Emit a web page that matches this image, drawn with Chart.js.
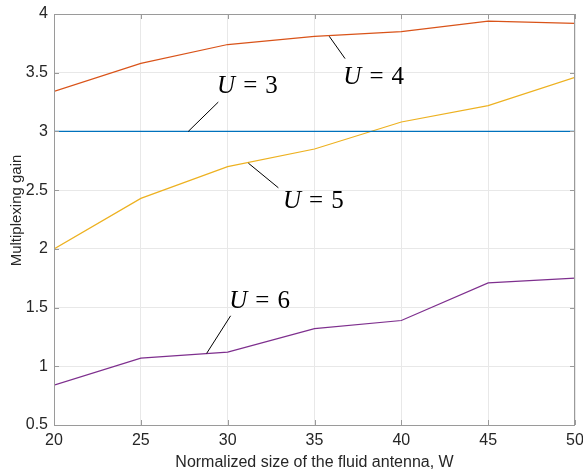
<!DOCTYPE html>
<html>
<head>
<meta charset="utf-8">
<script src="https://cdn.jsdelivr.net/npm/chart.js@4/dist/chart.umd.min.js"></script>
<style>
html, body { margin: 0; padding: 0; background: #fff; }
</style>
</head>
<body>
<canvas id="chart" width="583" height="472"></canvas>
<script>
// normalized fluid antenna size W
const sizes = [20, 25, 30, 35, 40, 45, 50];
// multiplexing gain for each number of users U
const gainU3 = [3, 3, 3, 3, 3, 3, 3];
const gainU4 = [3.34, 3.58, 3.74, 3.81, 3.85, 3.94, 3.92];
const gainU5 = [2.00, 2.43, 2.70, 2.85, 3.08, 3.22, 3.46];
const gainU6 = [0.84, 1.07, 1.12, 1.32, 1.39, 1.71, 1.75];
const xTicks = [20, 25, 30, 35, 40, 45, 50];
const yTicks = [0.5, 1, 1.5, 2, 2.5, 3, 3.5, 4];
const userCounts = [3, 4, 5, 6];
const yTitle = 'Multiplexing gain';

// label callouts, in data units: line from (x1,y1) to (x2,y2), text at (tx,ty)
const callouts = [
    { u: 3, x1: 27.73, y1: 3.0, x2: 29.46, y2: 3.25, tx: 29.39, ty: 3.33 },
    { u: 4, x1: 35.85, y1: 3.81, x2: 36.76, y2: 3.62, tx: 36.66, ty: 3.40 },
    { u: 5, x1: 31.19, y1: 2.73, x2: 32.92, y2: 2.52, tx: 33.19, ty: 2.345 },
    { u: 6, x1: 28.79, y1: 1.11, x2: 30.17, y2: 1.43, tx: 30.09, ty: 1.50 }
];

const colors = ['#0072BD', '#D95319', '#EDB120', '#7E2F8E'];
const series = [gainU3, gainU4, gainU5, gainU6];

let toPoints = ys => sizes.map((x, i) => ({ x: x, y: ys[i] }));

const framePlugin = {
    id: 'frame',
    afterDatasetsDraw(chart) {
        const { ctx, chartArea: a, scales: { x, y } } = chart;
        ctx.save();
        ctx.strokeStyle = '#9a9a9a';
        ctx.lineWidth = 1;
        ctx.strokeRect(Math.round(a.left) + 0.5, Math.round(a.top) + 0.5,
            Math.round(a.right - a.left) - 1, Math.round(a.bottom - a.top));
        // inward ticks on all four sides
        ctx.beginPath();
        xTicks.forEach(v => {
            let px = Math.round(x.getPixelForValue(v)) + 0.5;
            ctx.moveTo(px, a.bottom); ctx.lineTo(px, a.bottom - 5);
            ctx.moveTo(px, a.top); ctx.lineTo(px, a.top + 5);
        });
        yTicks.forEach(v => {
            let py = Math.round(y.getPixelForValue(v)) + 0.5;
            ctx.moveTo(a.left, py); ctx.lineTo(a.left + 5, py);
            ctx.moveTo(a.right, py); ctx.lineTo(a.right - 5, py);
        });
        ctx.stroke();

        // y axis title, sits a little above the middle like the original
        ctx.save();
        ctx.translate(a.left - 37, (a.top + a.bottom) / 2 - 9);
        ctx.rotate(-Math.PI / 2);
        ctx.font = '15px "Liberation Sans", Arial, sans-serif';
        ctx.fillStyle = '#262626';
        ctx.textAlign = 'center';
        ctx.textBaseline = 'middle';
        ctx.fillText(yTitle, 0, 0);
        ctx.restore();

        // callouts
        ctx.strokeStyle = '#000';
        ctx.fillStyle = '#000';
        ctx.textBaseline = 'alphabetic';
        callouts.forEach(c => {
            ctx.beginPath();
            ctx.moveTo(x.getPixelForValue(c.x1), y.getPixelForValue(c.y1));
            ctx.lineTo(x.getPixelForValue(c.x2), y.getPixelForValue(c.y2));
            ctx.stroke();
            let tx = x.getPixelForValue(c.tx);
            let ty = y.getPixelForValue(c.ty);
            ctx.font = 'italic 25px "Liberation Serif"';
            ctx.fillText('U', tx, ty);
            tx += ctx.measureText('U').width + 8;
            ctx.font = '25px "Liberation Serif"';
            ctx.fillText('=', tx, ty);
            tx += ctx.measureText('=').width + 8;
            ctx.fillText(String(c.u), tx, ty);
        });
        ctx.restore();
    }
};

let tickFont = { family: '"Liberation Sans", Arial, sans-serif', size: 16 };

let chart = new Chart('chart', {
    type: 'line',
    data: {
        datasets: series.map((s, i) => ({
            label: 'U = ' + userCounts[i],
            data: toPoints(s),
            borderColor: colors[i],
            borderWidth: 1.2,
            pointRadius: 0,
            tension: 0,
            fill: false
        }))
    },
    options: {
        responsive: false,
        animation: false,
        devicePixelRatio: 1,
        layout: { padding: { left: 0, right: 8, top: 14, bottom: 0 } },
        plugins: {
            legend: { display: false },
            tooltip: { enabled: false }
        },
        scales: {
            x: {
                type: 'linear',
                min: 20,
                max: 50,
                afterBuildTicks: s => { s.ticks = xTicks.map(v => ({ value: v })); },
                afterFit: s => { s.height = 47; s.paddingLeft = 0; s.paddingRight = 0; },
                grid: { color: '#e8e8e8', drawTicks: false },
                border: { display: false },
                ticks: {
                    font: tickFont,
                    color: '#262626',
                    padding: 6,
                    maxRotation: 0,
                    callback: v => String(v)
                },
                title: {
                    display: true,
                    text: 'Normalized size of the fluid antenna, W',
                    font: tickFont,
                    color: '#262626',
                    padding: { top: 0, bottom: 0 }
                }
            },
            y: {
                min: 0.5,
                max: 4,
                afterBuildTicks: s => { s.ticks = yTicks.map(v => ({ value: v })); },
                afterFit: s => { s.width = 54; s.paddingTop = 0; s.paddingBottom = 0; },
                grid: { color: '#e8e8e8', drawTicks: false },
                border: { display: false },
                ticks: {
                    font: tickFont,
                    color: '#262626',
                    padding: 6,
                    callback: v => String(v)
                }
            }
        }
    },
    plugins: [framePlugin]
});
</script>
</body>
</html>
